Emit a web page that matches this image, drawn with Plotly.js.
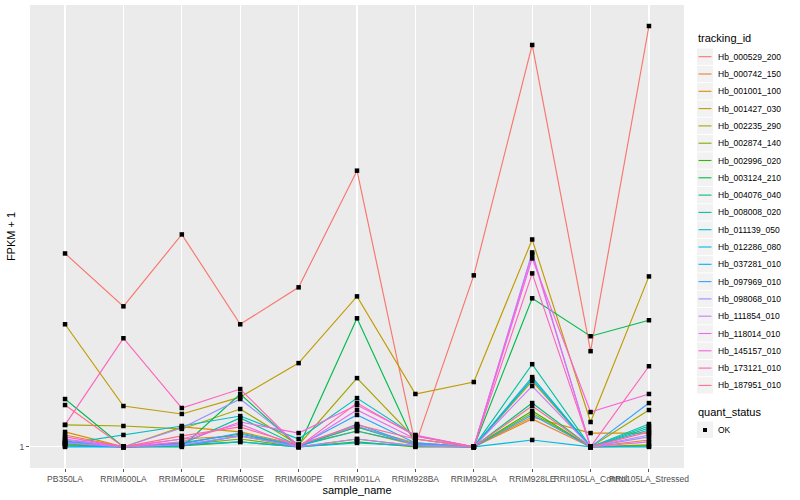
<!DOCTYPE html>
<html>
<head>
<meta charset="utf-8">
<script src="https://cdn.plot.ly/plotly-3.0.1.min.js"></script>
<style>html,body{margin:0;padding:0;background:#fff;}#chart{width:800px;height:500px;}</style>
</head>
<body>
<div id="chart"></div>
<script>
var samples = ["PB350LA","RRIM600LA","RRIM600LE","RRIM600SE","RRIM600PE","RRIM901LA","RRIM928BA","RRIM928LA","RRIM928LE","RRII105LA_Control","RRII105LA_Stressed"];

var trackingIds = ["Hb_000529_200","Hb_000742_150","Hb_001001_100","Hb_001427_030","Hb_002235_290","Hb_002874_140","Hb_002996_020","Hb_003124_210","Hb_004076_040","Hb_008008_020","Hb_011139_050","Hb_012286_080","Hb_037281_010","Hb_097969_010","Hb_098068_010","Hb_111854_010","Hb_118014_010","Hb_145157_010","Hb_173121_010","Hb_187951_010"];

var colors = ["#F8766D","#EA8331","#D89000","#C09B00","#A3A500","#7CAE00","#39B600","#00BB4E","#00BF7D","#00C1A3","#00BFC4","#00BAE0","#00B0F6","#35A2FF","#9590FF","#C77CFF","#E76BF3","#FA62DB","#FF62BC","#FF6C91"];

// FPKM + 1 per tracking id, one value per sample
var Hb_000529_200 = [2.601,2.003,2.857,1.833,2.200,3.915,1.010,2.334,7.285,1.605,8.000];
var Hb_000742_150 = [1.061,1.000,1.040,1.056,1.010,1.082,1.010,1.000,1.148,1.000,1.035];
var Hb_001001_100 = [1.077,1.000,1.104,1.077,1.010,1.104,1.020,1.000,1.159,1.071,1.071];
var Hb_001427_030 = [1.833,1.224,1.177,1.279,1.513,2.104,1.299,1.378,2.787,1.131,2.322];
var Hb_002235_290 = [1.115,1.109,1.093,1.206,1.010,1.405,1.040,1.000,1.384,1.000,1.200];
var Hb_002874_140 = [1.015,1.000,1.010,1.040,1.000,1.040,1.005,1.000,1.182,1.000,1.010];
var Hb_002996_020 = [1.010,1.000,1.005,1.025,1.000,1.025,1.000,1.000,1.194,1.000,1.005];
var Hb_003124_210 = [1.267,1.000,1.000,1.299,1.000,1.888,1.010,1.000,2.084,1.728,1.870];
var Hb_004076_040 = [1.030,1.000,1.020,1.066,1.005,1.104,1.010,1.000,1.242,1.000,1.098];
var Hb_008008_020 = [1.020,1.000,1.015,1.154,1.005,1.082,1.015,1.000,1.505,1.000,1.109];
var Hb_011139_050 = [1.015,1.061,1.109,1.165,1.040,1.273,1.056,1.000,1.412,1.000,1.120];
var Hb_012286_080 = [1.005,1.000,1.010,1.025,1.000,1.020,1.005,1.000,1.035,1.000,1.000];
var Hb_037281_010 = [1.000,1.000,1.005,1.056,1.000,1.120,1.010,1.000,1.398,1.000,1.087];
var Hb_097969_010 = [1.025,1.000,1.015,1.071,1.005,1.171,1.020,1.000,1.171,1.000,1.242];
var Hb_098068_010 = [1.035,1.000,1.098,1.267,1.010,1.109,1.010,1.000,2.614,1.000,1.051];
var Hb_111854_010 = [1.020,1.000,1.010,1.056,1.000,1.040,1.005,1.000,1.351,1.000,1.061];
var Hb_118014_010 = [1.040,1.000,1.040,1.120,1.000,1.200,1.040,1.000,2.589,1.000,1.025];
var Hb_145157_010 = [1.051,1.000,1.025,1.131,1.071,1.230,1.061,1.000,2.538,1.188,1.299];
var Hb_173121_010 = [1.115,1.711,1.212,1.331,1.000,1.242,1.056,1.000,2.357,1.000,1.490];
var Hb_187951_010 = [1.230,1.000,1.056,1.104,1.010,1.115,1.040,1.000,1.224,1.000,1.077];

var seriesValues = [Hb_000529_200,Hb_000742_150,Hb_001001_100,Hb_001427_030,Hb_002235_290,Hb_002874_140,Hb_002996_020,Hb_003124_210,Hb_004076_040,Hb_008008_020,Hb_011139_050,Hb_012286_080,Hb_037281_010,Hb_097969_010,Hb_098068_010,Hb_111854_010,Hb_118014_010,Hb_145157_010,Hb_173121_010,Hb_187951_010];

var quantStatus = ["OK"];

var W = 800, H = 500, mL = 30, mR = 116, mT = 5, mB = 32;
var pw = W - mL - mR, ph = H - mT - mB;
function fx(p) { return (p - mL) / pw; }
function fy(p) { return (H - mB - p) / ph; }

var traces = [];
for (var i = 0; i < trackingIds.length; i++) {
  traces.push({
    type: "scatter", mode: "lines",
    x: samples, y: seriesValues[i],
    name: trackingIds[i],
    line: {color: colors[i], width: 1.15},
    showlegend: false
  });
}
var px = [], py = [];
for (var i = 0; i < seriesValues.length; i++) {
  for (var j = 0; j < samples.length; j++) { px.push(samples[j]); py.push(seriesValues[i][j]); }
}
traces.push({
  type: "scatter", mode: "markers",
  x: px, y: py, name: quantStatus[0],
  marker: {symbol: "square", size: 4.5, color: "#000000"},
  showlegend: false
});

var fam = "Liberation Sans, Arial, sans-serif";
var shapes = [], annotations = [];
// legend: tracking_id
annotations.push({xref: "paper", yref: "paper", x: fx(696), y: fy(38), xanchor: "left", yanchor: "middle",
  text: "tracking_id", showarrow: false, font: {family: fam, size: 11, color: "#000"}});
var step = 17.3, y0 = 56.7;
for (var i = 0; i < trackingIds.length; i++) {
  var cy = y0 + step * i;
  shapes.push({type: "rect", xref: "paper", yref: "paper", x0: fx(697), x1: fx(713), y0: fy(cy - 8.2), y1: fy(cy + 8.2),
    fillcolor: "#F2F2F2", line: {width: 0}, layer: "below"});
  shapes.push({type: "line", xref: "paper", yref: "paper", x0: fx(698.5), x1: fx(711.5), y0: fy(cy), y1: fy(cy),
    line: {color: colors[i], width: 1.1}});
  annotations.push({xref: "paper", yref: "paper", x: fx(716), y: fy(cy), xanchor: "left", yanchor: "middle",
    text: trackingIds[i], showarrow: false, font: {family: fam, size: 8.5, color: "#000"}});
}
// legend: quant_status
annotations.push({xref: "paper", yref: "paper", x: fx(696), y: fy(412), xanchor: "left", yanchor: "middle",
  text: "quant_status", showarrow: false, font: {family: fam, size: 11, color: "#000"}});
shapes.push({type: "rect", xref: "paper", yref: "paper", x0: fx(697), x1: fx(713), y0: fy(421.5), y1: fy(438),
  fillcolor: "#F2F2F2", line: {width: 0}, layer: "below"});
shapes.push({type: "rect", xref: "paper", yref: "paper", x0: fx(703), x1: fx(707), y0: fy(428), y1: fy(432),
  fillcolor: "#000000", line: {width: 0}});
annotations.push({xref: "paper", yref: "paper", x: fx(716), y: fy(430), xanchor: "left", yanchor: "middle",
  text: quantStatus[0], showarrow: false, font: {family: fam, size: 8.5, color: "#000"}});

var layout = {
  width: W, height: H,
  margin: {l: mL, r: mR, t: mT, b: mB},
  paper_bgcolor: "#FFFFFF",
  plot_bgcolor: "#EBEBEB",
  font: {family: fam, color: "#000"},
  showlegend: false,
  xaxis: {
    type: "category",
    range: [-0.6, 10.6],
    showgrid: true, gridcolor: "#FFFFFF", gridwidth: 1.1,
    ticks: "outside", ticklen: 3, tickcolor: "#333333", tickwidth: 0.8,
    tickfont: {family: fam, size: 8.5, color: "#4D4D4D"},
    tickangle: 0,
    zeroline: false, showline: false,
    title: {text: "sample_name", font: {family: fam, size: 11, color: "#000"}, standoff: 2}
  },
  yaxis: {
    type: "log",
    range: [-0.0452, 0.9482],
    tickvals: [1], ticktext: ["1"],
    showgrid: true, gridcolor: "#FFFFFF", gridwidth: 1.1,
    ticks: "outside", ticklen: 3, tickcolor: "#333333", tickwidth: 0.8,
    tickfont: {family: fam, size: 8.5, color: "#4D4D4D"},
    zeroline: false, showline: false,
    title: {text: "FPKM + 1", font: {family: fam, size: 11, color: "#000"}, standoff: 1}
  },
  shapes: shapes,
  annotations: annotations
};

Plotly.newPlot("chart", traces, layout, {displayModeBar: false, staticPlot: true});
</script>
</body>
</html>
